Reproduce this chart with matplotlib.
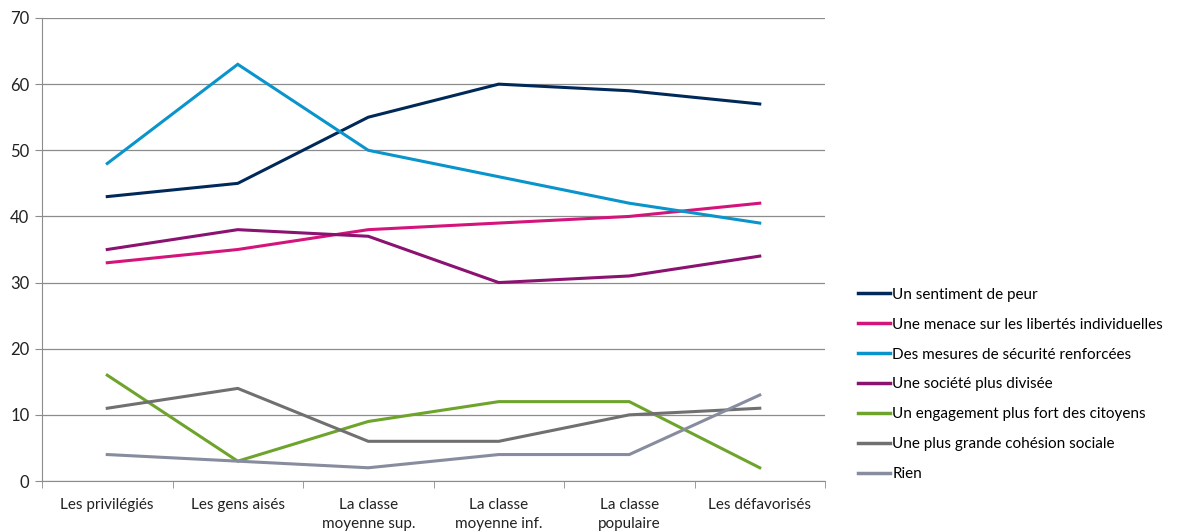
import numpy as np
import matplotlib as mpl
mpl.use('Agg')
import matplotlib.pyplot as plt

categories = ["Les privilégiés", "Les gens aisés", "La classe\nmoyenne sup.",
              "La classe\nmoyenne inf.", "La classe\npopulaire", "Les défavorisés"]

series_names = ["Un sentiment de peur",
                "Une menace sur les libertés individuelles",
                "Des mesures de sécurité renforcées",
                "Une société plus divisée",
                "Un engagement plus fort des citoyens",
                "Une plus grande cohésion sociale",
                "Rien"]

peur = [43, 45, 55, 60, 59, 57]
menace = [33, 35, 38, 39, 40, 42]
securite = [48, 63, 50, 46, 42, 39]
divisee = [35, 38, 37, 30, 31, 34]
engagement = [16, 3, 9, 12, 12, 2]
cohesion = [11, 14, 6, 6, 10, 11]
rien = [4, 3, 2, 4, 4, 13]

colors = ['#00295A', '#D4147A', '#0A94CC', '#8A1270', '#6EA42C', '#707070', '#878C9E']

plt.rcParams['font.family'] = ['Lato', 'DejaVu Sans']

fig = plt.figure(figsize=(11.78, 5.32), dpi=100)
ax = fig.add_axes([42/1178, 1-481/532, (825-42)/1178, (481-18)/532])

x = np.arange(len(categories))
all_series = [peur, menace, securite, divisee, engagement, cohesion, rien]
for vals, name, c in zip(all_series, series_names, colors):
    ax.plot(x, vals, color=c, lw=2.2, label=name, solid_joinstyle='miter')

ax.set_xlim(-0.5, len(categories) - 0.5)
ax.set_ylim(0, 70)
ax.set_yticks(np.arange(0, 71, 10))
ax.yaxis.grid(True, color='#8C8C8C', lw=0.9)
ax.set_axisbelow(True)

for s in ['top', 'right']:
    ax.spines[s].set_visible(False)
ax.spines['left'].set_color('#8C8C8C')
ax.spines['bottom'].set_color('#8C8C8C')

ax.set_xticks(x)
ax.set_xticklabels(categories, fontsize=11, family=['Liberation Sans Narrow', 'Lato', 'DejaVu Sans'],
                   color='#222222', linespacing=1.45)
ax.tick_params(axis='x', length=0, pad=12)
ax.set_xticks(np.arange(-0.5, len(categories), 1), minor=True)
ax.tick_params(axis='x', which='minor', length=5, color='#8C8C8C')
ax.tick_params(axis='y', length=5, color='#8C8C8C', labelsize=12, labelcolor='#222222', pad=4)

leg = fig.legend(loc='upper left', bbox_to_anchor=(844/1178, 1-274/532), frameon=False,
                 fontsize=11, handlelength=2.1, handletextpad=0.15, labelspacing=1.04)
for line in leg.get_lines():
    line.set_linewidth(2.5)

fig.savefig('out.png', dpi=100)
